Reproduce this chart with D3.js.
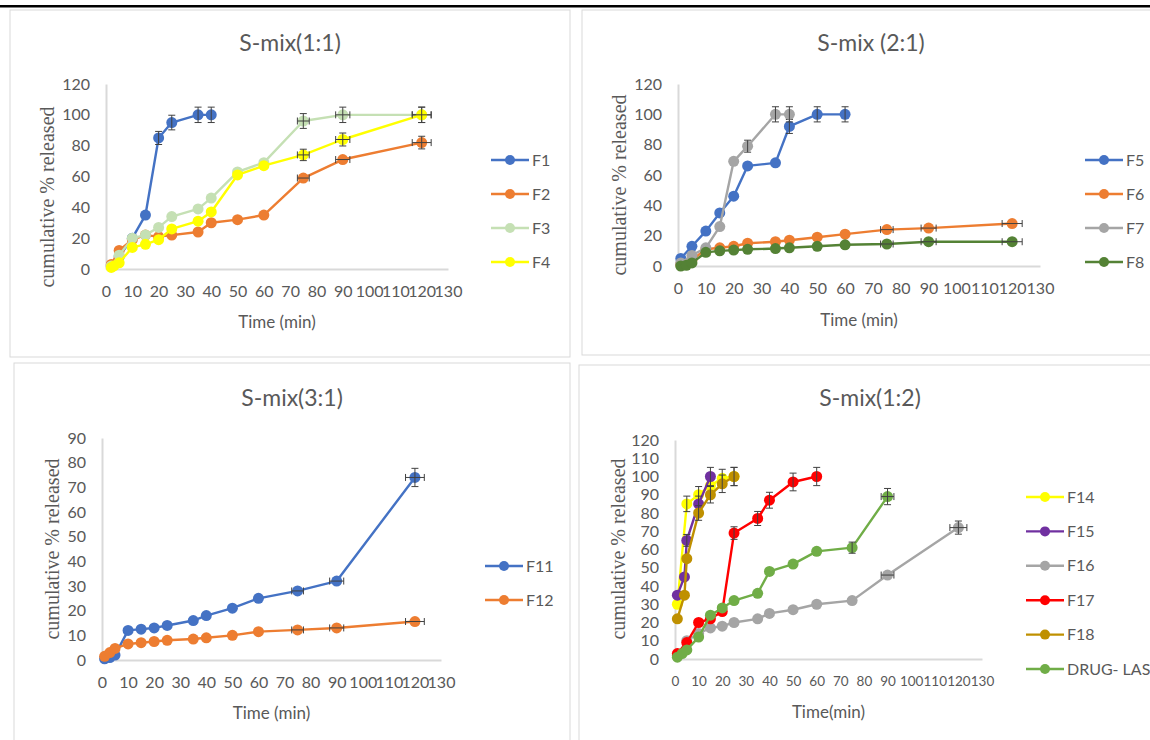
<!DOCTYPE html>
<html>
<head>
<meta charset="utf-8">
<script src="https://cdn.jsdelivr.net/npm/d3@7/dist/d3.min.js"></script>
<style>
body { margin: 0; background: #fff; }
svg text { font-family: Lato, "Liberation Sans", sans-serif; fill: #595959; }
</style>
</head>
<body>
<svg id="chart" width="1150" height="740"></svg>
<script>
// ---- data: [time (min), cumulative % released] ----
const xTicks    = [0, 10, 20, 30, 40, 50, 60, 70, 80, 90, 100, 110, 120, 130];
const yTicks120 = [0, 20, 40, 60, 80, 100, 120];
const yTicks90  = [0, 10, 20, 30, 40, 50, 60, 70, 80, 90];
const yTicks120by10 = [0, 10, 20, 30, 40, 50, 60, 70, 80, 90, 100, 110, 120];

// S-mix(1:1)
const F1 = [[2,2],[5,8],[10,20],[15,35],[20,85],[25,95],[35,100],[40,100]];
const F2 = [[2,3],[5,12],[10,19],[15,22],[20,21],[25,22],[35,24],[40,30],[50,32],[60,35],[75,59],[90,71],[120,82]];
const F3 = [[2,2],[5,9],[10,20],[15,22],[20,27],[25,34],[35,39],[40,46],[50,63],[60,69],[75,96],[90,100],[120,100]];
const F4 = [[2,1],[3,2],[5,4],[10,14],[15,16],[20,19],[25,26],[35,31],[40,37],[50,61],[60,67],[75,74],[90,84],[120,100]];

// S-mix (2:1)
const F5 = [[1,5],[5,13],[10,23],[15,35],[20,46],[25,66],[35,68],[40,92],[50,100],[60,100]];
const F6 = [[1,1],[5,4],[10,11],[15,12],[20,13],[25,15],[35,16],[40,17],[50,19],[60,21],[75,24],[90,25],[120,28]];
const F7 = [[1,2],[5,7],[10,12],[15,26],[20,69],[25,79],[35,100],[40,100]];
const F8 = [[1,0],[3,0.5],[5,2],[10,9],[15,10],[20,10.5],[25,11],[35,11.5],[40,12],[50,13],[60,14],[75,14.5],[90,16],[120,16]];

// S-mix(3:1)
const F11 = [[1,0.5],[3,1],[5,2],[10,12],[15,12.5],[20,13],[25,14],[35,16],[40,18],[50,21],[60,25],[75,28],[90,32],[120,74]];
const F12 = [[1,1.5],[3,3],[5,4.7],[10,6.5],[15,7],[20,7.5],[25,8],[35,8.5],[40,9],[50,10],[60,11.5],[75,12.2],[90,13],[120,15.6]];

// S-mix(1:2)
const F14 = [[1,30],[5,85],[10,90],[15,95],[20,99],[25,100]];
const F15 = [[1,35],[4,45],[5,65],[10,85],[15,100]];
const F16 = [[1,2],[5,10],[10,14],[15,17],[20,18],[25,20],[35,22],[40,25],[50,27],[60,30],[75,32],[90,46],[120,72]];
const F17 = [[1,3],[5,9],[10,20],[15,22],[20,26],[25,69],[35,77],[40,87],[50,97],[60,100]];
const F18 = [[1,22],[4,35],[5,55],[10,80],[15,90],[20,96],[25,100]];
const DRUG_LAS = [[1,1],[3,3],[5,5],[10,12],[15,24],[20,28],[25,32],[35,36],[40,48],[50,52],[60,59],[75,61],[90,89]];

// error bars are percentage type
const errXPct = 0.03;
const errYPct = 0.05;

// ---- panels (layout) ----
const panels = [
  { title: "S-mix(1:1)", box: [10, 10, 560, 347], titleXY: [290, 43],
    x0: 106, x1: 448, yTop: 84, yBot: 269, yMax: 120, yTicks: yTicks120, xFont: 16,
    yLabX: 47, yLabY: 197, xLab: "Time (min)", xLabY: 322,
    legX: 491, legY: 160, legStep: 34,
    series: [
      { name: "F1", data: F1, color: "#4472C4" },
      { name: "F2", data: F2, color: "#ED7D31" },
      { name: "F3", data: F3, color: "#C5E0B4" },
      { name: "F4", data: F4, color: "#FFFF00" } ] },
  { title: "S-mix (2:1)", box: [582, 10, 600, 345], titleXY: [871, 43],
    x0: 678, x1: 1040, yTop: 84, yBot: 266, yMax: 120, yTicks: yTicks120, xFont: 16,
    yLabX: 619, yLabY: 185, xLab: "Time (min)", xLabY: 320,
    legX: 1085, legY: 160, legStep: 34,
    series: [
      { name: "F5", data: F5, color: "#4472C4" },
      { name: "F6", data: F6, color: "#ED7D31" },
      { name: "F7", data: F7, color: "#A5A5A5" },
      { name: "F8", data: F8, color: "#548235" } ] },
  { title: "S-mix(3:1)", box: [14, 363, 556, 400], titleXY: [292, 398],
    x0: 102, x1: 441, yTop: 438, yBot: 660, yMax: 90, yTicks: yTicks90, xFont: 16,
    yLabX: 52, yLabY: 549, xLab: "Time (min)", xLabY: 713,
    legX: 485, legY: 566, legStep: 34,
    series: [
      { name: "F11", data: F11, color: "#4472C4" },
      { name: "F12", data: F12, color: "#ED7D31" } ] },
  { title: "S-mix(1:2)", box: [579, 365, 600, 400], titleXY: [870, 398],
    x0: 675, x1: 982, yTop: 440, yBot: 659, yMax: 120, yTicks: yTicks120by10, xFont: 13.5,
    yLabX: 618, yLabY: 549, xLab: "Time(min)", xLabY: 712,
    legX: 1026, legY: 497, legStep: 34.4,
    series: [
      { name: "F14", data: F14, color: "#FFFF00" },
      { name: "F15", data: F15, color: "#7030A0" },
      { name: "F16", data: F16, color: "#A5A5A5" },
      { name: "F17", data: F17, color: "#FF0000" },
      { name: "F18", data: F18, color: "#BF9000" },
      { name: "DRUG- LAS", data: DRUG_LAS, color: "#70AD47" } ] }
];

const svg = d3.select("#chart");

// black rule along the top of the figure
svg.append("rect").attr("x", 0).attr("y", 5).attr("width", 1150).attr("height", 2.5).attr("fill", "#000");

function drawPanel(p) {
  const g = svg.append("g");

  g.append("rect")
    .attr("x", p.box[0]).attr("y", p.box[1])
    .attr("width", p.box[2]).attr("height", p.box[3])
    .attr("fill", "#fff").attr("stroke", "#D9D9D9").attr("stroke-width", 1);

  const x = d3.scaleLinear().domain([0, 130]).range([p.x0, p.x1]);
  const y = d3.scaleLinear().domain([0, p.yMax]).range([p.yBot, p.yTop]);

  // axes
  const ax = g.append("g")
    .attr("transform", "translate(0," + p.yBot + ")")
    .call(d3.axisBottom(x).tickValues(xTicks).tickSize(0).tickPadding(17).tickSizeOuter(0));
  const ay = g.append("g")
    .attr("transform", "translate(" + p.x0 + ",0)")
    .call(d3.axisLeft(y).tickValues(p.yTicks).tickSize(0).tickPadding(16).tickSizeOuter(0));
  [ax, ay].forEach(a => {
    a.select(".domain").attr("stroke", "#D9D9D9").attr("stroke-width", 2);
    a.selectAll("text").attr("fill", "#595959").style("font-family", "Lato, sans-serif");
  });
  ay.selectAll("text").style("font-size", "16px");
  ax.selectAll("text").style("font-size", p.xFont + "px");

  // titles
  g.append("text")
    .attr("x", p.titleXY[0]).attr("y", p.titleXY[1]).attr("dy", "0.35em")
    .attr("text-anchor", "middle").style("font-size", "23px")
    .text(p.title);

  g.append("text")
    .attr("x", (p.x0 + p.x1) / 2).attr("y", p.xLabY).attr("dy", "0.35em")
    .attr("text-anchor", "middle").style("font-size", "17px")
    .text(p.xLab);

  g.append("text")
    .attr("transform", "translate(" + p.yLabX + "," + p.yLabY + ") rotate(-90)")
    .attr("dy", "0.35em")
    .attr("text-anchor", "middle")
    .style("font-family", "'Liberation Serif', 'DejaVu Serif', serif")
    .style("font-size", "20px")
    .text("cumulative % released");

  const line = d3.line().x(d => x(d[0])).y(d => y(d[1]));

  p.series.forEach(s => {
    const sg = g.append("g");
    sg.append("path")
      .datum(s.data)
      .attr("d", line)
      .attr("fill", "none")
      .attr("stroke", s.color)
      .attr("stroke-width", 2.4)
      .attr("stroke-linejoin", "round");

    sg.selectAll("circle")
      .data(s.data)
      .join("circle")
      .attr("cx", d => x(d[0]))
      .attr("cy", d => y(d[1]))
      .attr("r", 5.5)
      .attr("fill", s.color);

    // error bars (x and y, percentage)
    const eb = sg.append("g").attr("stroke", "#404040").attr("stroke-width", 1);
    s.data.forEach(d => {
      const cx = x(d[0]), cy = y(d[1]);
      const ey0 = y(d[1] * (1 - errYPct)), ey1 = y(d[1] * (1 + errYPct));
      const ex0 = x(d[0] * (1 - errXPct)), ex1 = x(d[0] * (1 + errXPct));
      if (ey0 - ey1 > 11) {
        eb.append("line").attr("x1", cx).attr("x2", cx).attr("y1", ey0).attr("y2", ey1);
        eb.append("line").attr("x1", cx - 3.5).attr("x2", cx + 3.5).attr("y1", ey0).attr("y2", ey0);
        eb.append("line").attr("x1", cx - 3.5).attr("x2", cx + 3.5).attr("y1", ey1).attr("y2", ey1);
      }
      if (ex1 - ex0 > 11) {
        eb.append("line").attr("y1", cy).attr("y2", cy).attr("x1", ex0).attr("x2", ex1);
        eb.append("line").attr("y1", cy - 3.5).attr("y2", cy + 3.5).attr("x1", ex0).attr("x2", ex0);
        eb.append("line").attr("y1", cy - 3.5).attr("y2", cy + 3.5).attr("x1", ex1).attr("x2", ex1);
      }
    });
  });

  // legend
  p.series.forEach((s, i) => {
    const ly = p.legY + i * p.legStep;
    const lg = g.append("g").attr("transform", "translate(" + p.legX + "," + ly + ")");
    lg.append("line").attr("x1", 0).attr("x2", 38).attr("y1", 0).attr("y2", 0)
      .attr("stroke", s.color).attr("stroke-width", 2.4);
    lg.append("circle").attr("cx", 19).attr("cy", 0).attr("r", 5).attr("fill", s.color);
    lg.append("text").attr("x", 41).attr("y", 0).attr("dy", "0.35em")
      .style("font-size", "16px").text(s.name);
  });
}

panels.forEach(drawPanel);
</script>
</body>
</html>
